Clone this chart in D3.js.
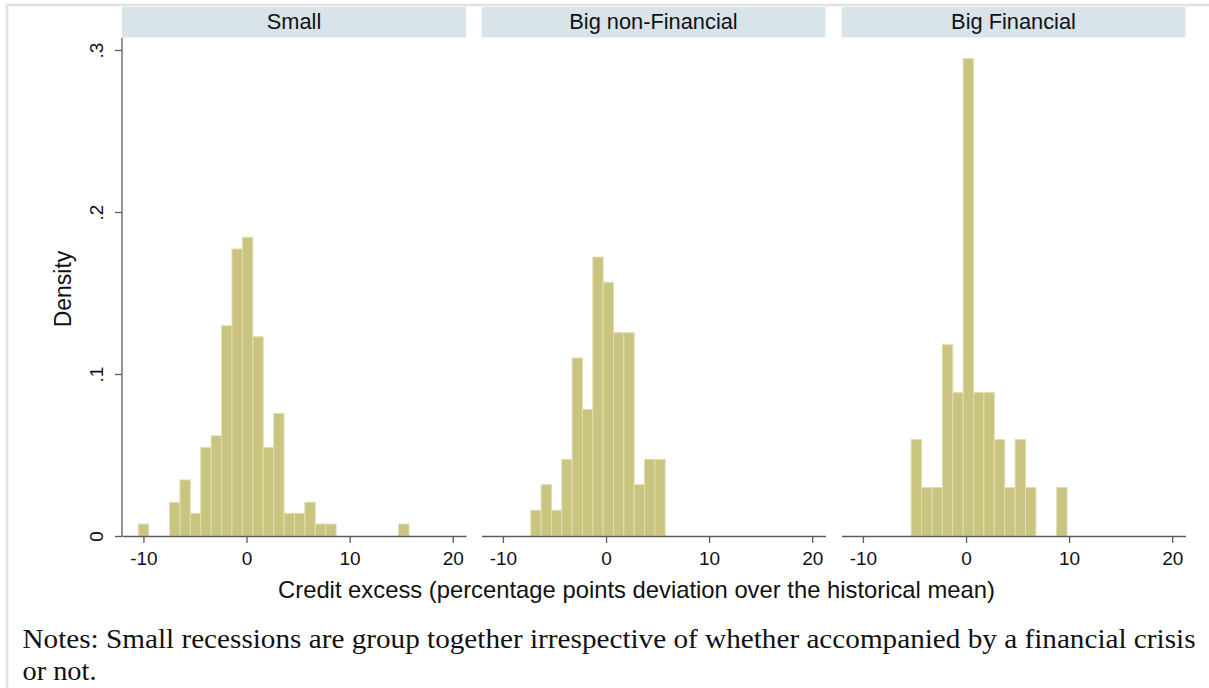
<!DOCTYPE html>
<html>
<head>
<meta charset="utf-8">
<script src="https://cdn.jsdelivr.net/npm/d3@7"></script>
<style>
  body { margin: 0; background: #fff; }
  svg { display: block; }
</style>
</head>
<body>
<svg id="chart" width="1209" height="688"></svg>
<script>
// Histogram panels: credit excess by recession type
const panelTitles = ["Small", "Big non-Financial", "Big Financial"];
const binStarts = [-10.5, -7.3, -5.32];
const binWidths = [1.01, 1.003, 1.008];

const smallDensity = [0.0074, 0, 0, 0.0208, 0.0346, 0.0140, 0.0547, 0.0619, 0.1298, 0.1772,
                      0.1844, 0.1230, 0.0547, 0.0757, 0.0140, 0.0140, 0.0208, 0.0074, 0.0074, 0,
                      0, 0, 0, 0, 0, 0.0074];
const bigNonFinDensity = [0.0159, 0.0317, 0.0159, 0.0473, 0.1099, 0.0782, 0.1722, 0.1566, 0.1255,
                          0.1255, 0.0317, 0.0473, 0.0473];
const bigFinDensity = [0.0595, 0.0299, 0.0299, 0.1181, 0.0885, 0.2947, 0.0885, 0.0885, 0.0595,
                       0.0299, 0.0595, 0.0299, 0, 0, 0.0299];

const xTicks = [-10, 0, 10, 20];
const xTickLabels = ["-10", "0", "10", "20"];
const yTicks = [0, 0.1, 0.2, 0.3];
const yTickLabels = ["0", ".1", ".2", ".3"];

const xTitle = "Credit excess (percentage points deviation over the historical mean)";
const yTitle = "Density";
const noteLines = [
  "Notes: Small recessions are group together irrespective of whether accompanied by a financial crisis",
  "or not."
];

const densities = [smallDensity, bigNonFinDensity, bigFinDensity];

const svg = d3.select("#chart");
const sans = "'Liberation Sans', Arial, Helvetica, sans-serif";
const axisColor = "#5b5b5b";
const barFill = "#c9c480";
const barEdge = "#e1dead";

// outer frame of the graph region
svg.append("rect")
  .attr("x", 7).attr("y", 5).attr("width", 1220).attr("height", 720)
  .attr("fill", "none").attr("stroke", "#e2e2e2").attr("stroke-width", 2.6);

const panelLefts = [122, 481.5, 841.5];
const panelWidth = 344;
const plotTop = 38, plotBottom = 536;
const stripTop = 7, stripHeight = 30.5;

const y = d3.scaleLinear().domain([0, 0.3]).range([plotBottom, 50]);

panelTitles.forEach((title, p) => {
  const left = panelLefts[p];
  const x = d3.scaleLinear().domain([-12.08, 21.29]).range([left, left + panelWidth]);

  // strip header
  svg.append("rect")
    .attr("x", left).attr("y", stripTop)
    .attr("width", panelWidth).attr("height", stripHeight)
    .attr("fill", "#d8e3ea");
  svg.append("text")
    .attr("x", left + panelWidth / 2).attr("y", stripTop + 21.5)
    .attr("text-anchor", "middle")
    .attr("font-family", sans).attr("font-size", 21.8)
    .attr("fill", "#111")
    .text(title);

  // bars
  const bins = densities[p].map((d, i) => ({
    x0: binStarts[p] + i * binWidths[p],
    x1: binStarts[p] + (i + 1) * binWidths[p],
    d
  })).filter(b => b.d > 0);

  svg.append("g").selectAll("rect")
    .data(bins)
    .join("rect")
    .attr("x", b => x(b.x0))
    .attr("width", b => x(b.x1) - x(b.x0))
    .attr("y", b => y(b.d))
    .attr("height", b => y(0) - y(b.d))
    .attr("fill", barFill)
    .attr("stroke", barEdge)
    .attr("stroke-width", 1);

  // x axis
  const gx = svg.append("g")
    .attr("transform", `translate(0,${plotBottom})`)
    .call(d3.axisBottom(x).tickValues(xTicks).tickFormat((d, i) => xTickLabels[i])
      .tickSize(7).tickSizeOuter(0).tickPadding(9));
  gx.select(".domain").attr("stroke", axisColor).attr("stroke-width", 1.3);
  gx.selectAll(".tick line").attr("stroke", axisColor).attr("stroke-width", 1.3);
  gx.selectAll(".tick text")
    .attr("font-family", sans).attr("font-size", 19).attr("fill", "#111");
});

// y axis on the first panel
const gy = svg.append("g")
  .attr("transform", `translate(${panelLefts[0]},0)`)
  .call(d3.axisLeft(y).tickValues(yTicks).tickFormat((d, i) => yTickLabels[i])
    .tickSize(7).tickSizeOuter(0));
gy.select(".domain").attr("d", `M0,${plotTop}V${plotBottom}`)
  .attr("stroke", axisColor).attr("stroke-width", 1.3);
gy.selectAll(".tick line").attr("stroke", axisColor).attr("stroke-width", 1.3);
gy.selectAll(".tick text")
  .attr("x", null).attr("dy", null)
  .attr("transform", "translate(-19,0) rotate(-90)")
  .attr("text-anchor", "middle")
  .attr("font-family", sans).attr("font-size", 19).attr("fill", "#111");

// axis titles
svg.append("text")
  .attr("transform", "translate(71,289) rotate(-90)")
  .attr("text-anchor", "middle")
  .attr("font-family", sans).attr("font-size", 23).attr("fill", "#111")
  .text(yTitle);

svg.append("text")
  .attr("x", 636.5).attr("y", 597.5)
  .attr("text-anchor", "middle")
  .attr("font-family", sans).attr("font-size", 23.8).attr("fill", "#111")
  .text(xTitle);

// notes below the graph
const serif = "'Liberation Serif', 'Times New Roman', serif";
const noteWidths = [1173, 74];
noteLines.forEach((line, i) => {
  svg.append("text")
    .attr("x", 22.5).attr("y", 648 + i * 32)
    .attr("font-family", serif).attr("font-size", 27.5).attr("fill", "#111")
    .attr("textLength", noteWidths[i])
    .attr("lengthAdjust", "spacingAndGlyphs")
    .text(line);
});
</script>
</body>
</html>
